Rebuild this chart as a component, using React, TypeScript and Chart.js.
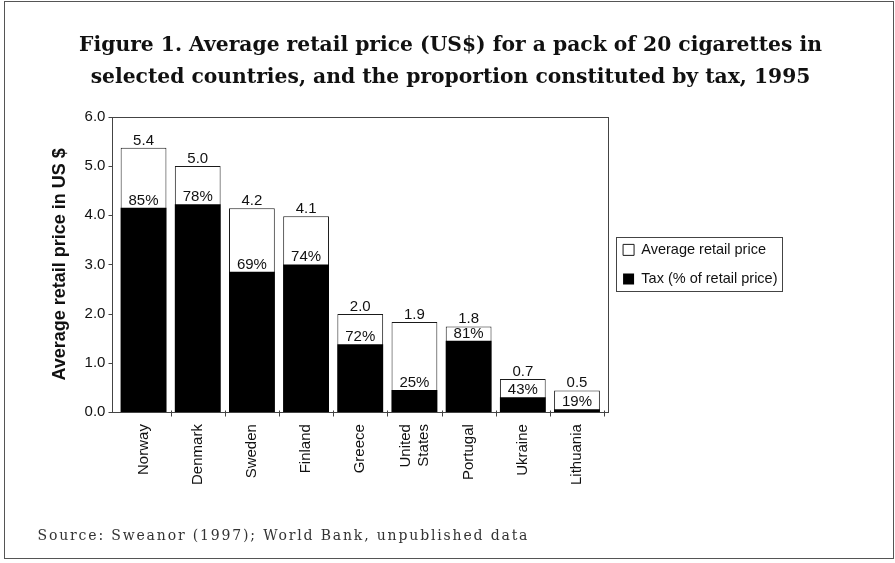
import React, { useEffect, useRef } from "react";
import { Chart, registerables } from "chart.js";

Chart.register(...registerables);

const countries: (string | string[])[] = [
  "Norway",
  "Denmark",
  "Sweden",
  "Finland",
  "Greece",
  ["United", "States"],
  "Portugal",
  "Ukraine",
  "Lithuania",
];
// bar heights as drawn in the figure (US$)
const priceHeights = [5.37, 5.0, 4.14, 3.98, 1.99, 1.83, 1.74, 0.67, 0.44];
const taxHeights = [4.15, 4.22, 2.85, 3.0, 1.38, 0.45, 1.45, 0.3, 0.06];
// printed labels
const priceLabels = ["5.4", "5.0", "4.2", "4.1", "2.0", "1.9", "1.8", "0.7", "0.5"];
const taxLabels = ["85%", "78%", "69%", "74%", "72%", "25%", "81%", "43%", "19%"];
const yTicks = [0, 1, 2, 3, 4, 5, 6];
const seriesNames = ["Average retail price", "Tax (% of retail price)"];
const titleLines = [
  "Figure 1. Average retail price (US$) for a pack of 20 cigarettes in",
  "selected countries, and the proportion constituted by tax, 1995",
];
const yAxisTitle = "Average retail price in US $";
const sourceText = "Source: Sweanor (1997); World Bank, unpublished data";

const SANS = "'Liberation Sans', Arial, sans-serif";
const SERIF = "'DejaVu Serif', 'Liberation Serif', serif";
const INK = "#111111";
const X_FONT_SIZE = 15;

const decorPlugin = {
  id: "decor",
  afterLayout(chart: any) {
    const lg = chart.legend;
    if (lg) {
      lg.left += 4.5;
      lg.right += 4.5;
    }
    // centre the two-line title across the whole figure
    const tb = chart.titleBlock;
    if (tb) {
      tb.left = 6;
      tb.right = chart.width;
      tb.width = tb.right - tb.left;
    }
  },
  beforeDraw(chart: any) {
    // centre multi-line rotated category labels on their bars
    const xs = chart.scales.x;
    const items = xs.getLabelItems(chart.chartArea);
    const lh = X_FONT_SIZE * 1.2;
    items.forEach((it: any) => {
      if (Array.isArray(it.label) && !it._centred) {
        it.options.translation[0] -= ((it.label.length - 1) * lh) / 2;
        it._centred = true;
      }
    });
  },
  afterDatasetsDraw(chart: any) {
    const ctx = chart.ctx as CanvasRenderingContext2D;
    const m0 = chart.getDatasetMeta(0);
    const m1 = chart.getDatasetMeta(1);
    ctx.save();
    ctx.font = `15px ${SANS}`;
    ctx.fillStyle = INK;
    ctx.textAlign = "center";
    ctx.textBaseline = "alphabetic";
    m0.data.forEach((el: any, i: number) => {
      ctx.fillText(priceLabels[i], el.x, el.y - 3);
    });
    m1.data.forEach((el: any, i: number) => {
      ctx.fillText(taxLabels[i], el.x, el.y - 3);
    });
    ctx.restore();
  },
  afterDraw(chart: any) {
    const ctx = chart.ctx as CanvasRenderingContext2D;
    const a = chart.chartArea;
    const xs = chart.scales.x;
    const ys = chart.scales.y;
    ctx.save();
    // plot frame
    const fl = Math.round(a.left - 4) + 0.5;
    const fr = Math.round(a.right + 4) + 0.5;
    const ft = Math.round(a.top) + 0.5;
    const fb = Math.round(a.bottom) + 0.5;
    ctx.strokeStyle = "#444";
    ctx.lineWidth = 1;
    ctx.strokeRect(fl, ft, fr - fl, fb - ft);
    // y tick marks
    ctx.beginPath();
    yTicks.forEach((v) => {
      const y = Math.round(ys.getPixelForValue(v)) + 0.5;
      ctx.moveTo(fl - 4, y);
      ctx.lineTo(fl, y);
    });
    // x tick marks at category boundaries
    const step = xs.getPixelForValue(1) - xs.getPixelForValue(0);
    for (let i = 0; i < countries.length; i++) {
      const x = Math.round(xs.getPixelForValue(i) + step / 2) + 0.5;
      ctx.moveTo(x, fb - 2);
      ctx.lineTo(x, fb + 4);
    }
    ctx.stroke();

    // legend border
    const lg = chart.legend;
    const hb = lg && lg.legendHitBoxes;
    if (hb && hb.length) {
      const first = hb[0];
      const last = hb[hb.length - 1];
      const left = Math.round(first.left - 7) + 0.5;
      const right = left + 166;
      const top = Math.round(first.top + first.height / 2 - 12.5) + 0.5;
      const bottom = Math.round(last.top + last.height / 2 + 12.5) + 0.5;
      ctx.strokeStyle = "#444";
      ctx.strokeRect(left, top, right - left, bottom - top);
    }

    // source note
    ctx.font = `14px ${SERIF}`;
    ctx.fillStyle = "#333";
    ctx.textAlign = "left";
    ctx.textBaseline = "alphabetic";
    const w = ctx.measureText(sourceText).width;
    const sp = Math.max(0, (490 - w) / (sourceText.length - 1));
    (ctx as any).letterSpacing = `${sp.toFixed(2)}px`;
    ctx.fillText(sourceText, 37.5, 540);
    (ctx as any).letterSpacing = "0px";

    // page border
    ctx.strokeStyle = "#555";
    ctx.strokeRect(4.5, 1.5, 889, 557);
    ctx.restore();
  },
};

export default function App() {
  const ref = useRef<HTMLCanvasElement>(null);
  useEffect(() => {
    const canvas = ref.current;
    if (!canvas) return;
    const chart = new Chart(canvas, {
      type: "bar",
      data: {
        labels: countries as any,
        datasets: [
          {
            label: seriesNames[0],
            data: priceHeights,
            backgroundColor: "#ffffff",
            borderColor: "#1a1a1a",
            borderWidth: 1,
            grouped: false,
            order: 2,
            barPercentage: 0.845,
            categoryPercentage: 1,
          } as any,
          {
            label: seriesNames[1],
            data: taxHeights,
            backgroundColor: "#000000",
            borderColor: "#000000",
            borderWidth: 0,
            grouped: false,
            order: 1,
            barPercentage: 0.845,
            categoryPercentage: 1,
          } as any,
        ],
      },
      options: {
        animation: false,
        responsive: false,
        devicePixelRatio: 1,
        layout: { padding: { left: 42, right: 112, top: 0, bottom: 66 } },
        plugins: {
          title: {
            display: true,
            text: titleLines,
            color: INK,
            font: { family: SERIF, size: 20.3, weight: "bold", lineHeight: 1.6 },
            padding: { top: 29, bottom: 22.7 },
          },
          legend: {
            position: "right",
            fullSize: false,
            labels: {
              boxWidth: 11,
              boxHeight: 11,
              padding: 14.5,
              color: INK,
              font: { family: SANS, size: 14.5 },
              sort: (a: any, b: any) => a.datasetIndex - b.datasetIndex,
            },
          },
          tooltip: { enabled: false },
        },
        scales: {
          x: {
            grid: { display: false, drawTicks: false },
            border: { display: false },
            ticks: {
              color: INK,
              font: { family: SANS, size: X_FONT_SIZE },
              minRotation: 90,
              maxRotation: 90,
              autoSkip: false,
              padding: 12,
            },
          },
          y: {
            min: 0,
            max: 6,
            grid: { display: false, drawTicks: false },
            border: { display: false },
            afterBuildTicks: (scale: any) => {
              scale.ticks = yTicks.map((v) => ({ value: v }));
            },
            ticks: {
              color: INK,
              font: { family: SANS, size: 15 },
              padding: 11,
              callback: (v: any) => Number(v).toFixed(1),
            },
            title: {
              display: true,
              text: yAxisTitle,
              color: INK,
              font: { family: SANS, size: 18, weight: "bold" },
              padding: { top: 7, bottom: 3 },
            },
          },
        },
      } as any,
      plugins: [decorPlugin],
    });
    return () => chart.destroy();
  }, []);
  return (
    <div style={{ position: "absolute", left: 0, top: 0, width: 895, height: 563, background: "#ffffff" }}>
      <canvas ref={ref} width={895} height={563} style={{ display: "block", width: "895px", height: "563px" }} />
    </div>
  );
}
